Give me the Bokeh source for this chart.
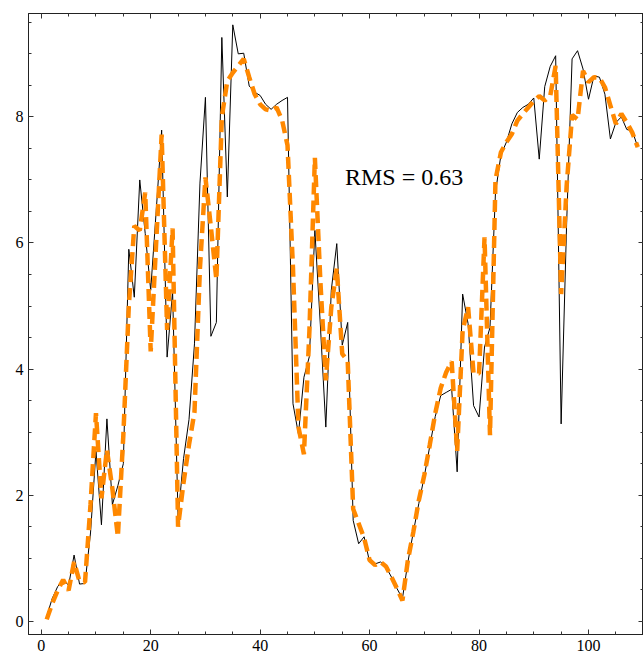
from bokeh.plotting import figure
from bokeh.models import Range1d, LinearAxis, FixedTicker
from bokeh.core.properties import value
from bokeh.embed import file_html
from bokeh.resources import INLINE

# ---- data -------------------------------------------------------------
x_index = list(range(1, 110))

actual = [
    0.08, 0.36, 0.55, 0.66, 0.57, 1.05, 0.59, 0.60, 1.40, 2.70,   # 1-10
    1.53, 3.21, 1.85, 2.15, 2.50, 5.90, 5.14, 7.00, 6.15, 5.25,   # 11-20
    6.50, 7.79, 4.19, 5.23, 1.65, 2.58, 3.20, 4.40, 6.95, 8.31,   # 21-30
    4.52, 4.74, 9.26, 6.73, 9.46, 9.00, 9.01, 8.49, 8.39, 8.34,   # 31-40
    8.20, 8.12, 8.20, 8.26, 8.31, 3.45, 2.97, 3.87, 4.20, 6.20,   # 41-50
    4.70, 3.08, 5.25, 5.99, 4.38, 4.74, 1.60, 1.23, 1.34, 0.94,   # 51-60
    0.91, 0.94, 0.86, 0.70, 0.52, 0.36, 0.94, 1.42, 1.87, 2.30,   # 61-70
    2.78, 3.25, 3.58, 3.63, 3.68, 2.37, 5.19, 4.72, 3.42, 3.24,   # 71-80
    4.35, 4.66, 6.80, 7.40, 7.60, 7.89, 8.07, 8.15, 8.20, 8.30,   # 81-90
    7.33, 8.48, 8.80, 8.97, 3.13, 6.30, 8.92, 9.05, 8.76, 8.28,   # 91-100
    8.65, 8.63, 8.36, 7.65, 7.91, 8.00, 7.80, 7.78, 7.52,         # 101-109
]

predicted = [
    0.03, 0.28, 0.49, 0.66, 0.49, 0.94, 0.63, 0.62, 1.85, 3.30,   # 1-10
    1.95, 2.72, 2.10, 1.34, 2.95, 5.00, 6.27, 6.20, 6.80, 4.28,   # 11-20
    6.00, 7.72, 4.62, 6.23, 1.50, 2.20, 2.80, 3.32, 5.60, 7.04,   # 21-30
    6.25, 5.42, 8.00, 8.57, 8.70, 8.81, 8.92, 8.63, 8.36, 8.20,   # 31-40
    8.12, 8.10, 8.15, 7.95, 7.55, 5.60, 3.08, 2.65, 4.60, 7.35,   # 41-50
    5.40, 3.82, 4.98, 5.60, 4.24, 4.13, 1.78, 1.55, 1.32, 0.97,   # 51-60
    0.89, 0.94, 0.87, 0.70, 0.52, 0.33, 0.97, 1.42, 1.92, 2.32,   # 61-70
    2.80, 3.30, 3.70, 3.95, 4.12, 2.70, 4.61, 4.98, 3.93, 3.93,   # 71-80
    6.09, 2.95, 7.00, 7.44, 7.60, 7.73, 7.94, 8.05, 8.15, 8.25,   # 81-90
    8.33, 8.26, 8.33, 8.81, 5.19, 6.90, 8.03, 7.96, 8.73, 8.55,   # 91-100
    8.63, 8.62, 8.47, 8.18, 7.89, 8.05, 7.91, 7.75, 7.52,         # 101-109
]

x_major_ticks = [0, 20, 40, 60, 80, 100]
x_minor_ticks = [v for v in range(-5, 115, 5)]
y_major_ticks = [0, 2, 4, 6, 8]
y_minor_ticks = [v * 0.5 for v in range(-2, 21)]

annotation_text = ["RMS = 0.63"]
annotation_x = [66.3]
annotation_y = [7.04]

FONT = "Liberation Serif"

# ---- figure -----------------------------------------------------------
p = figure(width=643, height=657, output_backend="svg", toolbar_location=None,
           x_range=Range1d(-2.33, 110.05), y_range=Range1d(-0.21, 9.64),
           x_axis_location=None, y_axis_location=None,
           min_border_left=28, min_border_top=13, min_border_right=0,
           min_border_bottom=23)
p.background_fill_color = "white"
p.border_fill_color = "white"
p.outline_line_color = "#222222"
p.outline_line_width = 1
p.xgrid.visible = False
p.ygrid.visible = False


def style_axis(ax, labels=True):
    ax.axis_line_color = "#222222"
    ax.axis_line_width = 1
    ax.major_tick_in = 5
    ax.major_tick_out = 0
    ax.minor_tick_in = 3
    ax.minor_tick_out = 0
    ax.major_tick_line_color = "#333333"
    ax.minor_tick_line_color = "#333333"
    if labels:
        ax.major_label_text_font = FONT
        ax.major_label_text_font_size = "16px"
        ax.major_label_text_color = "black"
        ax.major_label_standoff = 5
    else:
        ax.major_label_text_font_size = "0px"
        ax.major_label_text_color = None
        ax.major_label_standoff = 0


xt = FixedTicker(ticks=x_major_ticks, minor_ticks=x_minor_ticks)
yt = FixedTicker(ticks=y_major_ticks, minor_ticks=y_minor_ticks)

bottom = LinearAxis(ticker=xt)
style_axis(bottom)
p.add_layout(bottom, "below")

left = LinearAxis(ticker=yt)
style_axis(left)
p.add_layout(left, "left")

top = LinearAxis(ticker=xt)
style_axis(top, labels=False)
p.add_layout(top, "above")

right = LinearAxis(ticker=yt)
style_axis(right, labels=False)
p.add_layout(right, "right")

# ---- series -----------------------------------------------------------
p.line(x_index, actual, line_color="black", line_width=1)
p.line(x_index, predicted, line_color="#ff8800", line_width=4.5,
       line_dash="12 6")

p.text(x=annotation_x, y=annotation_y, text=annotation_text,
       text_font=value(FONT), text_font_size="24px", text_color="black",
       text_align="center", text_baseline="middle")

open("out.html", "w").write(file_html(p, INLINE))
